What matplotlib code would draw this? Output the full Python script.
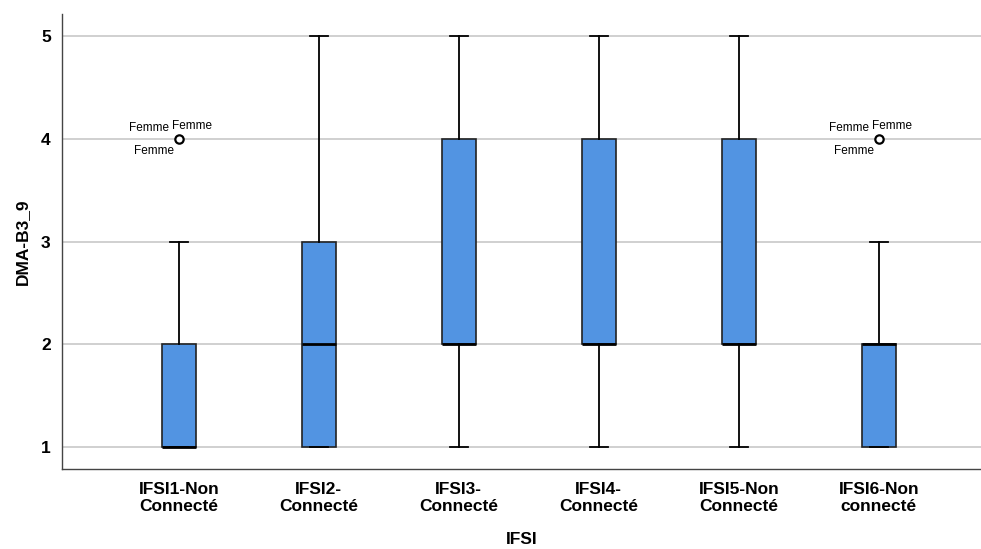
import matplotlib
matplotlib.use("Agg")
import matplotlib.pyplot as plt

plt.rcParams['font.family'] = ['Liberation Sans', 'DejaVu Sans']

categories = ['IFSI1-Non\nConnecté', 'IFSI2-\nConnecté', 'IFSI3-\nConnecté',
              'IFSI4-\nConnecté', 'IFSI5-Non\nConnecté', 'IFSI6-Non\nconnecté']
q1 = [1, 1, 2, 2, 2, 1]
med = [1, 2, 2, 2, 2, 2]
q3 = [2, 3, 4, 4, 4, 2]
whislo = [1, 1, 1, 1, 1, 1]
whishi = [3, 5, 5, 5, 5, 3]
outliers = [[4], [], [], [], [], [4]]
outlier_labels = ['Femme', 'Femme', 'Femme']

stats = []
for i in range(len(categories)):
    stats.append(dict(q1=q1[i], med=med[i], q3=q3[i], whislo=whislo[i],
                      whishi=whishi[i], fliers=outliers[i]))

fig, ax = plt.subplots(figsize=(9.81, 5.49), dpi=100)
fig.subplots_adjust(left=0.063, right=1.0, top=0.975, bottom=0.145)

pos = list(range(len(categories)))
ax.bxp(stats, positions=pos, widths=0.243, patch_artist=True,
       boxprops=dict(facecolor='#5294e2', edgecolor='#222222', linewidth=1.2),
       medianprops=dict(color='black', linewidth=2),
       whiskerprops=dict(color='black', linewidth=1.3),
       capprops=dict(color='black', linewidth=1.3),
       capwidths=0.13,
       flierprops=dict(marker='o', markerfacecolor='white', markeredgecolor='black',
                       markersize=6, markeredgewidth=1.6))

# outlier labels
offsets = [(-30, 11), (13, 13), (-25, -12)]
for i, fl in enumerate(outliers):
    for v in fl:
        for lab, off in zip(outlier_labels, offsets):
            ax.annotate(lab, xy=(pos[i], v), xytext=off, textcoords='offset pixels',
                        ha='center', va='center', fontsize=8.5)

ax.set_xlim(-0.836, 5.73)
ax.set_ylim(0.786, 5.214)
ax.set_yticks([1, 2, 3, 4, 5])
ax.set_xticks(pos)
ax.set_xticklabels(categories, fontweight='bold', fontsize=12.5, linespacing=1.15)
for t in ax.get_yticklabels():
    t.set_fontweight('bold')
    t.set_fontsize(12.5)
ax.tick_params(axis='both', length=0, pad=8)
ax.tick_params(axis='x', pad=9)
ax.yaxis.grid(True, color='#c8c8c8', linewidth=1.2)
ax.set_axisbelow(True)
for s in ['top', 'right']:
    ax.spines[s].set_visible(False)
for s in ['left', 'bottom']:
    ax.spines[s].set_color('#444444')
    ax.spines[s].set_linewidth(1.0)

ax.set_xlabel('IFSI', fontweight='bold', fontsize=12.5, labelpad=13)
ax.set_ylabel('DMA-B3_9', fontweight='bold', fontsize=12.5, labelpad=8)

plt.savefig('out.png', dpi=100)
